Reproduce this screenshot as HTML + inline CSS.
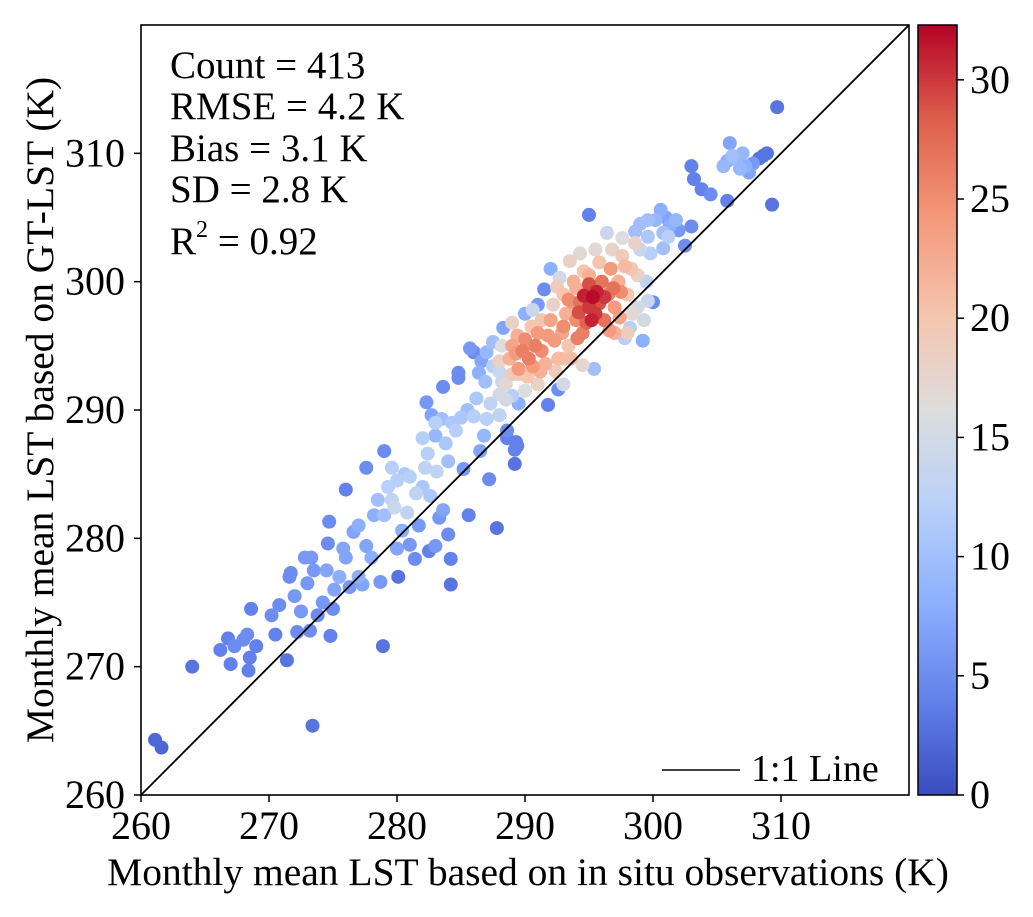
<!DOCTYPE html>
<html><head><meta charset="utf-8"><style>
body{margin:0;background:#fff}
svg text{font-family:"Liberation Serif",serif;fill:#000}
</style></head><body>
<svg id="chart" width="1033" height="912" xmlns="http://www.w3.org/2000/svg">
<defs><linearGradient id="cm" x1="0" y1="1" x2="0" y2="0">
<stop offset="0" stop-color="rgb(59,76,192)"/><stop offset="0.125" stop-color="rgb(98,130,234)"/><stop offset="0.25" stop-color="rgb(141,176,254)"/><stop offset="0.375" stop-color="rgb(184,208,249)"/>
<stop offset="0.5" stop-color="rgb(221,221,221)"/><stop offset="0.625" stop-color="rgb(245,196,173)"/><stop offset="0.75" stop-color="rgb(244,152,122)"/><stop offset="0.875" stop-color="rgb(222,96,77)"/>
<stop offset="1" stop-color="rgb(180,4,38)"/></linearGradient></defs>
<g id="points"></g>
<line x1="141" y1="795" x2="909" y2="25" stroke="#000" stroke-width="1.8"/>
<rect x="141" y="25" width="768" height="770" fill="none" stroke="#000" stroke-width="1.6"/>
<g id="xticks"></g>
<g id="yticks"></g>
<text x="528" y="885" font-size="39.5" text-anchor="middle">Monthly mean LST based on in situ observations (K)</text>
<text transform="translate(53,410) rotate(-90)" font-size="39.5" text-anchor="middle">Monthly mean LST based on GT-LST (K)</text>
<g font-size="39">
<text x="170" y="78">Count = 413</text>
<text x="170" y="119">RMSE = 4.2 K</text>
<text x="170" y="161">Bias = 3.1 K</text>
<text x="170" y="202">SD = 2.8 K</text>
<text x="170" y="254">R<tspan font-size="24" dy="-17">2</tspan><tspan dy="17"> = 0.92</tspan></text>
</g>
<g>
<line x1="662" y1="770" x2="740" y2="770" stroke="#000" stroke-width="1.5"/>
<text x="751" y="781" font-size="38">1:1 Line</text>
</g>
<rect x="918" y="25" width="39" height="770" fill="url(#cm)" stroke="#000" stroke-width="1.5"/>
<g id="cticks"></g>
</svg>
<script>
const xTicks=[260,270,280,290,300,310];
const yTicks=[260,270,280,290,300,310];
const cTicks=[0,5,10,15,20,25,30];
const cMax=32.3;
const ptX=[264,266.2,266.8,267.3,267,268,268.3,268.5,268.4,268.6,269,270.2,270.8,271.4,271.6,271.7,272,272.2,272.5,272.8,273.3,273,273.5,273.2,273.8,274.2,273.4,274.5,274.6,274.7,275.1,274.8,275.5,275.8,276,276.3,276.6,277,277.3,277.6,277.6,278,278.2,278.5,278.7,278.9,279,279,279.3,279.6,279.8,280,280,280.1,280.6,280.4,281,281.4,281.7,282,282.2,282.4,282.6,282.5,282.3,282.7,283,283.1,283.3,283.6,283.5,283.8,283.6,284,284.2,284.3,284.8,284.8,284.6,285,285.2,285.6,286,286.2,286.5,287,287.3,287.8,288,288.2,288.5,288.6,289,289.2,289.2,289.3,289.5,
287,287.5,288,288.5,288.8,289,289.3,289.5,289.8,290,290.3,290.6,290.8,291,291.3,291.6,291.8,292,292.3,292.6,292.9,293.2,293,293.4,293.7,294,294,294.3,294.5,294.8,295,295,295.3,295.5,295.6,295.8,296,296.2,296.5,296.7,297,297,297.3,297.6,298,298,298.3,298.6,298.8,299,299.2,299.5,298.2,297.8,290,291,291.5,292.7,293.5,294.3,292,295,293,291,290,289.5,294.5,295.4,291.8,292.6,286.4,286,285.7,286.6,288.3,
298.6,299,299.6,300.2,300.6,301,301.3,301.2,302,302.5,300,303,303.2,303.8,304.5,305.5,305.8,306,306.5,306.8,307.2,307.5,307.8,308.3,308.6,308.9,309.3,309.7,305.8,303,300.8,299.8,287.2,288.6,289.4,284.2,283,261.1,261.6,
289.4,290.5,289,288.2,288,290.2,291.2,292.4,293.6,292.2,293,293.8,294.6,295.8,296.8,297.6,296.4,295.5,294.8,296.6,297.4,298.4,299.6,299.3,298.8,297.8,296.9,294.1,293,291.3,290.6,289,288,287.5,286.9,295.2,294.6,296.2,295,294.2,293.4,292.5,297.5,
283,284,281,280.8,279.6,281.5,282,285.5,286.8,277,276,275,270.5,300.8,301.8,299.6,306.2,307];
const ptY=[270,271.3,272.2,271.6,270.2,272.1,272.5,270.7,269.7,274.5,271.6,274,274.8,270.5,277,277.3,275.5,272.7,274.3,278.5,278.5,276.5,277.5,272.8,274,275,265.4,277.5,279.6,281.3,276,272.4,277,279.2,283.8,276.2,280.5,277,276.4,279.4,285.5,278.5,281.8,283,276.6,271.6,281.8,286.8,284,283,282.4,284.5,279.2,277,285,280.6,279.5,278.4,281,284,285.5,286.6,283.3,279,290.6,289.6,288,285.2,281.6,282.2,289.3,287.4,291.8,280.3,276.4,289,292.5,292.9,288.4,289.4,285.4,281.8,289.5,290.9,286.8,289.3,290.5,280.8,289.6,292.2,290.8,288.4,291.1,286.9,285.8,287.5,290.5,
294.5,295.3,293,292,294,295,294.4,293.2,294.6,295.5,294,293.4,295,296,294.6,293.6,295.8,297,295.4,294,296,297.5,292,295,298.4,299.5,297,298.4,296,299,300.5,298,298.8,297.5,299.2,298.3,300,297,299,301,298,296,300,302,299,296,301,303,298,302.5,295.4,300,296.4,295.6,297.5,298.2,299.4,300.3,301.6,302.2,301,305.2,294,292,291.5,292.8,293.5,293.2,290.4,291.6,292.9,294.5,294.8,293.8,296.4,
303.9,304.5,304.8,304.8,305.6,305,304.3,303.5,304,302.8,298.4,309,308,307.2,306.8,309,309.4,310.8,309.5,308.8,309,308.5,309.2,309.6,309.8,310,306,313.6,306.3,304.3,302.6,302.2,284.6,287.8,287.2,278.4,279.4,264.3,263.7,
295.8,296.5,296.8,295,293.8,292.6,293,293,294,298.2,299,300,300.8,301.5,302.5,303.4,303.8,302.5,296.8,296.2,297.2,297.5,298.5,297,300.5,301.2,299.5,295.6,296.5,297,297.8,292.8,291.2,293.4,292.2,297,298.9,298.8,299.8,297.6,298.6,299.6,299.2,
289,286,284.8,282,285.5,283.5,287.8,290,288,281,278.5,274.5,272.5,303.8,304.8,303.5,309.8,310];
const ptC=[3,4,4,5,4,5,5,4,4,4,4,5,5,3,5,5,6,5,6,6,6,6,6,5,5,6,3,7,5,5,7,4,8,7,4,6,7,8,7,7,5,8,8,10,6,3,10,5,12,13,14,12,7,3,11,8,6,5,6,11,13,12,11,4,6,7,9,13,6,7,10,11,5,5,3,11,5,5,12,11,6,4,12,11,7,12,13,3,13,14,15,5,12,4,3,4,8,
9,10,14,17,22,23,24,24,26,25,26,24,26,24,25,22,24,23,24,21,23,22,15,20,24,22,25,27,26,28,22,30,32,30,31,29,27,27,26,24,24,22,22,19,20,19,20,18,15,14,8,13,12,12,8,6,5,15,18,17,8,4,20,18,16,20,17,10,4,5,8,5,6,7,7,
10,10,10,9,8,7,8,12,6,5,5,4,4,4,5,9,8,7,9,9,8,7,6,3,3,3,3,3,4,5,10,12,5,4,4,4,6,2,2,
22,20,18,16,18,20,22,19,21,18,20,22,20,20,18,16,14,17,28,24,23,17,14,15,18,21,27,26,25,20,14,19,15,12,10,31,31,30,29,29,25,19,25,
12,10,12,13,12,13,12,10,9,8,7,5,4,10,9,11,10,9];
const X=v=>141+(v-260)*768/60, Y=v=>795-(v-260)*770/60;
const stops=[[0,[59,76,192]],[0.125,[98,130,234]],[0.25,[141,176,254]],[0.375,[184,208,249]],[0.5,[221,221,221]],[0.625,[245,196,173]],[0.75,[244,152,122]],[0.875,[222,96,77]],[1,[180,4,38]]];
function cmap(t){t=Math.max(0,Math.min(1,t));for(let i=1;i<stops.length;i++){if(t<=stops[i][0]){const a=stops[i-1],b=stops[i],f=(t-a[0])/(b[0]-a[0]);return 'rgb('+a[1].map((c,k)=>Math.round(c+(b[1][k]-c)*f)).join(',')+')';}}}
const NS='http://www.w3.org/2000/svg';
const g=document.getElementById('points');
const idx=ptX.map((_,i)=>i).sort((a,b)=>ptC[a]-ptC[b]);
idx.forEach(i=>{const c=document.createElementNS(NS,'circle');
c.setAttribute('cx',X(ptX[i]));c.setAttribute('cy',Y(ptY[i]));c.setAttribute('r',7);c.setAttribute('fill',cmap(ptC[i]/cMax));


g.appendChild(c);});
function txt(p,x,y,s,anchor){const t=document.createElementNS(NS,'text');t.setAttribute('x',x);t.setAttribute('y',y);t.setAttribute('font-size',40);t.setAttribute('text-anchor',anchor);t.textContent=s;p.appendChild(t);return t;}
function ln(p,x1,y1,x2,y2){const l=document.createElementNS(NS,'line');l.setAttribute('x1',x1);l.setAttribute('y1',y1);l.setAttribute('x2',x2);l.setAttribute('y2',y2);l.setAttribute('stroke','#000');l.setAttribute('stroke-width',1.5);p.appendChild(l);}
const gx=document.getElementById('xticks');
xTicks.forEach(v=>{ln(gx,X(v),795,X(v),802);const t=txt(gx,X(v),839,v,'middle');

});
const gy=document.getElementById('yticks');
yTicks.forEach(v=>{ln(gy,134,Y(v),141,Y(v));const t=txt(gy,125,Y(v)+13,v,'end');

});
const gc=document.getElementById('cticks');
cTicks.forEach(v=>{const y=795-v/cMax*770;ln(gc,957,y,964,y);const t=txt(gc,970,y+13,v,'start');

});
</script>
</body></html>
